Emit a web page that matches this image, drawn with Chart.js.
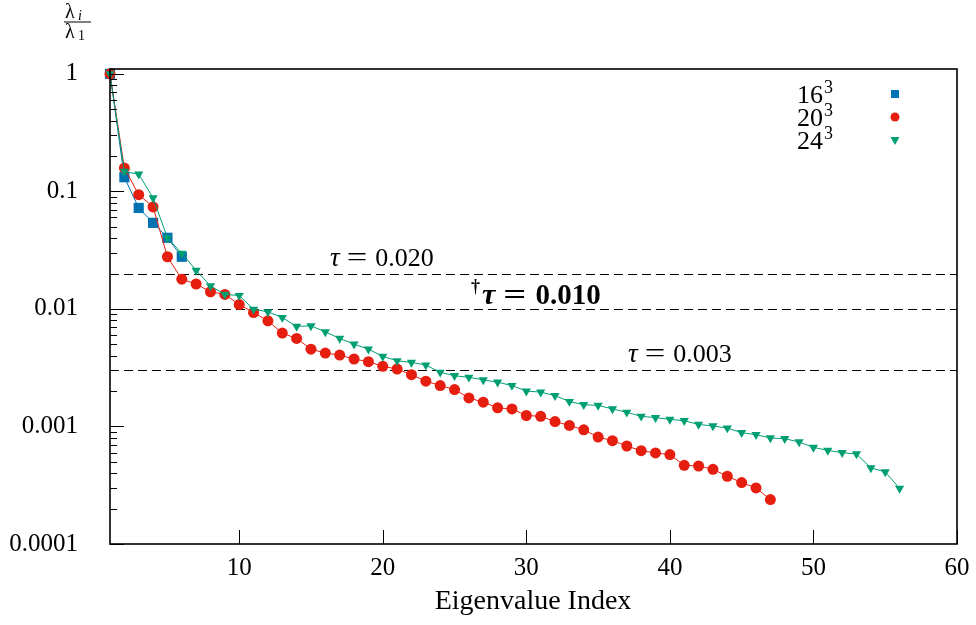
<!DOCTYPE html>
<html lang="en">
<head>
    <meta charset="UTF-8">
    <title>Eigenvalue Ratios</title>
    <script src="https://cdn.jsdelivr.net/npm/chart.js"></script>
    <style>
        html, body { margin: 0; padding: 0; background: white; }
        #wrap { width: 976px; height: 625px; }
    </style>
</head>
<body>
    <div id="wrap"><canvas id="chart" width="976" height="625"></canvas></div>
    <script>
        // Data: lambda_i / lambda_1 per eigenvalue index
        const ratio16 = [1, 0.132, 0.0723, 0.054, 0.0403, 0.0278];
        const ratio20 = [1, 0.158, 0.0938, 0.0738, 0.0278, 0.0179, 0.0163, 0.0140, 0.0133, 0.0109,
            0.00931, 0.00792, 0.00623, 0.00561, 0.00455, 0.00421, 0.00405, 0.00375, 0.00356, 0.00325,
            0.00308, 0.00276, 0.00243, 0.00223, 0.00206, 0.00175, 0.00161, 0.00144, 0.00141, 0.00124,
            0.00122, 0.00110, 0.00102, 0.000937, 0.000813, 0.000757, 0.000682, 0.000622, 0.000595, 0.000576,
            0.000467, 0.000461, 0.000432, 0.000377, 0.000333, 0.0003, 0.000239];
        const ratio24 = [1, 0.148, 0.140, 0.088, 0.0403, 0.0297, 0.0213, 0.0157, 0.0133, 0.0130,
            0.00993, 0.00944, 0.00845, 0.0071, 0.00718, 0.00638, 0.00561, 0.00502, 0.00455, 0.00395,
            0.00362, 0.00351, 0.00333, 0.00289, 0.0027, 0.00262, 0.00249, 0.00238, 0.00223, 0.0020,
            0.00196, 0.00183, 0.00163, 0.00153, 0.00151, 0.00141, 0.00132, 0.00122, 0.00119, 0.00115,
            0.00112, 0.00104, 0.00101, 0.000969, 0.000885, 0.000851, 0.000798, 0.000787, 0.000738, 0.000664,
            0.000626, 0.000598, 0.000583, 0.000444, 0.000411, 0.000297];

        const seriesBase = ['16', '20', '24'];
        const seriesExp = '3';
        const xTickValues = [10, 20, 30, 40, 50, 60];
        const yTickValues = [1, 0.1, 0.01, 0.001, 0.0001];
        const yTickLabels = ['1', '0.1', '0.01', '0.001', '0.0001'];
        const thresholds = [0.020, 0.010, 0.003];
        const thresholdLabels = ['0.020', '0.010', '0.003'];

        const colors = ['#0072b2', '#e51e10', '#009e73'];
        const serif = "'Liberation Serif', 'DejaVu Serif', serif";

        const toPoints = arr => arr.map((v, k) => ({ x: k + 1, y: v }));

        // "tau = value" drawn in pieces so the spacing looks like TeX math
        function drawTau(ctx, label, x0, by, bold) {
            const w = bold ? 'bold ' : '';
            const size = bold ? 29 : 26;
            let x = x0;
            if (bold) {
                ctx.font = 'bold 18px ' + serif;
                ctx.fillText('†', x, by - 12);
                x += ctx.measureText('†').width + 2;
            }
            ctx.font = w + 'italic ' + (size + 1) + 'px ' + serif;
            ctx.fillText('τ', x, by);
            x += ctx.measureText('τ').width + (bold ? 8 : 7);
            ctx.font = w + (size + 1) + 'px ' + serif;
            ctx.save();
            ctx.scale(1.35, 1);
            ctx.fillText('=', x / 1.35, by);
            ctx.restore();
            x += ctx.measureText('=').width * 1.35 + (bold ? 9 : 8);
            ctx.font = w + size + 'px ' + serif;
            ctx.fillText(label, x, by);
        }

        // Frame, inward ticks, thresholds, legend, axis titles
        const decorPlugin = {
            id: 'decor',
            beforeDatasetsDraw(chart) {
                const { ctx, chartArea: a, scales: { y } } = chart;
                ctx.save();
                ctx.strokeStyle = '#000';
                ctx.lineWidth = 1;
                ctx.setLineDash([9, 5]);
                thresholds.forEach(t => {
                    const py = Math.round(y.getPixelForValue(t)) + 0.5;
                    ctx.beginPath();
                    ctx.moveTo(a.left, py);
                    ctx.lineTo(a.right, py);
                    ctx.stroke();
                });
                ctx.setLineDash([]);
                ctx.fillStyle = '#000';
                ctx.textBaseline = 'alphabetic';
                ctx.textAlign = 'left';
                drawTau(ctx, thresholdLabels[0], 330, y.getPixelForValue(thresholds[0]) - 8, false);
                drawTau(ctx, thresholdLabels[1], 471, y.getPixelForValue(thresholds[1]) - 5, true);
                drawTau(ctx, thresholdLabels[2], 628, y.getPixelForValue(thresholds[2]) - 8, false);
                ctx.restore();
            },
            afterDraw(chart) {
                const { ctx, chartArea: a, scales: { x, y } } = chart;
                ctx.save();
                ctx.strokeStyle = '#000';
                ctx.lineWidth = 1;
                // inward ticks
                ctx.beginPath();
                xTickValues.forEach(v => {
                    const px = Math.round(x.getPixelForValue(v)) + 0.5;
                    ctx.moveTo(px, a.bottom);
                    ctx.lineTo(px, a.bottom - 14);
                });
                yTickValues.forEach(v => {
                    const py = Math.round(y.getPixelForValue(v)) + 0.5;
                    ctx.moveTo(a.left, py);
                    ctx.lineTo(a.left + 14, py);
                });
                for (let d = 0.0001; d < 0.5; d *= 10) {
                    for (let k = 2; k <= 9; k++) {
                        const py = Math.round(y.getPixelForValue(k * d)) + 0.5;
                        ctx.moveTo(a.left, py);
                        ctx.lineTo(a.left + 7, py);
                    }
                }
                ctx.stroke();
                // frame
                ctx.lineWidth = 1.6;
                ctx.strokeRect(a.left, a.top, a.right - a.left, a.bottom - a.top);

                // legend
                ctx.textBaseline = 'alphabetic';
                ctx.textAlign = 'left';
                const rows = [94, 117, 140];
                seriesBase.forEach((name, k) => {
                    ctx.fillStyle = '#000';
                    ctx.font = '26px ' + serif;
                    ctx.fillText(name, 797, rows[k] + 9);
                    const bw = ctx.measureText(name).width;
                    ctx.font = '18px ' + serif;
                    ctx.fillText(seriesExp, 797 + bw + 1, rows[k] - 1);
                    ctx.fillStyle = colors[k];
                    const mx = 895, my = rows[k];
                    ctx.beginPath();
                    if (k === 0) ctx.rect(mx - 4, my - 4, 8, 8);
                    else if (k === 1) ctx.arc(mx, my, 4.5, 0, Math.PI * 2);
                    else { ctx.moveTo(mx - 4.5, my - 3); ctx.lineTo(mx + 4.5, my - 3); ctx.lineTo(mx, my + 5); ctx.closePath(); }
                    ctx.fill();
                });

                // axis titles
                ctx.fillStyle = '#000';
                ctx.textAlign = 'center';
                ctx.font = '28px ' + serif;
                ctx.fillText('Eigenvalue Index', 533, 609);

                // y title as a fraction
                ctx.textAlign = 'left';
                ctx.font = '20px ' + serif;
                ctx.fillText('λ', 65, 18);
                ctx.font = 'italic 14px ' + serif;
                ctx.fillText('i', 78, 20);
                ctx.font = '20px ' + serif;
                ctx.fillText('λ', 65, 38);
                ctx.font = '14px ' + serif;
                ctx.fillText('1', 78, 40);
                ctx.lineWidth = 1;
                ctx.beginPath();
                ctx.moveTo(64, 22);
                ctx.lineTo(91, 22);
                ctx.stroke();
                ctx.restore();
            }
        };

        const common = { borderWidth: 1, fill: false, tension: 0, clip: false };

        new Chart(document.getElementById('chart'), {
            type: 'line',
            data: {
                datasets: [
                    { ...common, label: '16³', data: toPoints(ratio16), borderColor: colors[0], backgroundColor: colors[0],
                      pointStyle: 'rect', pointRadius: 7.2, pointBorderWidth: 0, order: 3 },
                    { ...common, label: '20³', data: toPoints(ratio20), borderColor: colors[1], backgroundColor: colors[1],
                      pointStyle: 'circle', pointRadius: 5.5, pointBorderWidth: 0, order: 2 },
                    { ...common, label: '24³', data: toPoints(ratio24), borderColor: colors[2], backgroundColor: colors[2],
                      pointStyle: 'triangle', rotation: 180, pointRadius: 5.3, pointBorderWidth: 0, order: 1 }
                ]
            },
            options: {
                responsive: false,
                animation: false,
                events: [],
                layout: { padding: { top: 69, right: 19, left: 0, bottom: 0 } },
                plugins: { legend: { display: false }, tooltip: { enabled: false } },
                scales: {
                    x: {
                        type: 'linear', min: 1, max: 60,
                        grid: { display: false },
                        border: { display: false },
                        afterBuildTicks: s => { s.ticks = xTickValues.map(v => ({ value: v })); },
                        afterFit: s => { s.height = 81; },
                        ticks: { color: '#000', font: { family: serif, size: 25 }, padding: 1, maxRotation: 0 }
                    },
                    y: {
                        type: 'logarithmic', min: 0.0001, max: 1.1,
                        grid: { display: false },
                        border: { display: false },
                        afterBuildTicks: s => { s.ticks = yTickValues.map(v => ({ value: v })); },
                        afterFit: s => { s.width = 110; },
                        ticks: {
                            color: '#000', font: { family: serif, size: 25 }, padding: 24,
                            callback: v => yTickLabels[yTickValues.indexOf(v)]
                        }
                    }
                }
            },
            plugins: [decorPlugin]
        });
    </script>
</body>
</html>
